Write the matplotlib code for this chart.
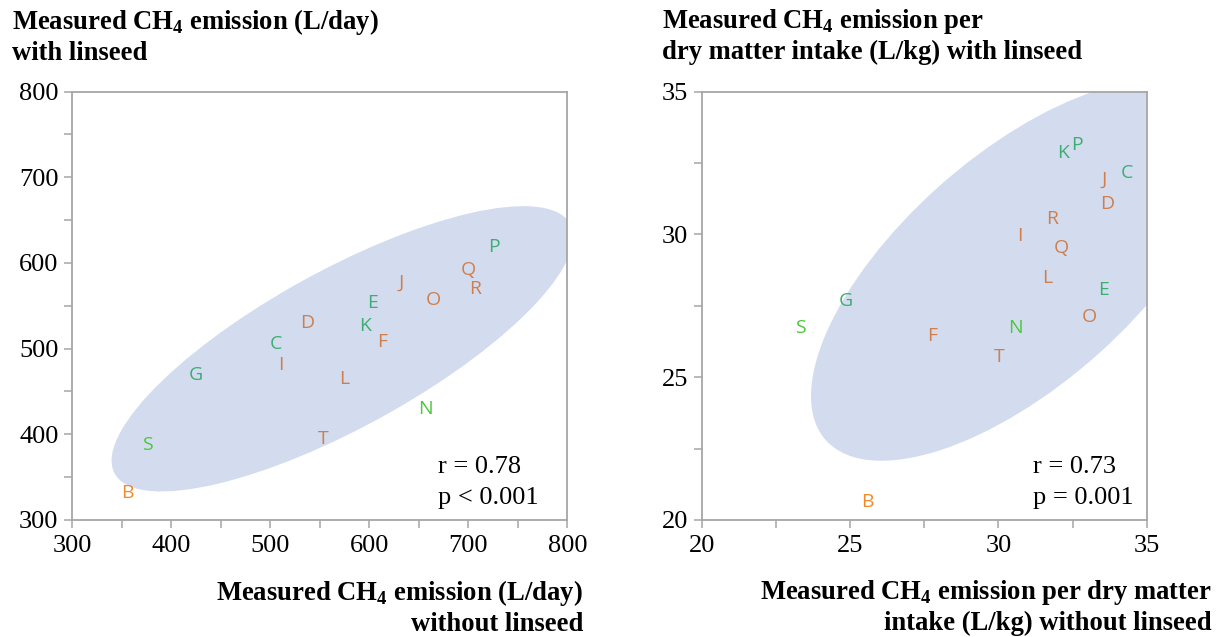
import numpy as np
import matplotlib
matplotlib.use("Agg")
import matplotlib.pyplot as plt
from matplotlib.patches import Ellipse
from matplotlib.ticker import MultipleLocator

plt.rcParams['font.family'] = 'Liberation Serif'
plt.rcParams['mathtext.fontset'] = 'custom'
plt.rcParams['mathtext.rm'] = 'Liberation Serif'
plt.rcParams['mathtext.bf'] = 'Liberation Serif:bold'

# cow labels and colour groups
labels = ["B", "C", "D", "E", "F", "G", "I", "J", "K", "L", "N", "O", "P", "Q", "R", "S", "T"]
groups = ["o", "g", "b", "g", "b", "g", "b", "b", "g", "b", "l", "b", "g", "b", "b", "l", "b"]

# CH4 (L/day): without vs with linseed
day_without = [356, 506, 537, 603, 613, 425, 511, 632, 596, 575, 657, 665, 726, 700, 707, 376, 554]
day_with = [332, 506, 530, 553, 508, 469, 481, 577, 526, 465, 430, 557, 619, 592, 570, 388, 394]

# CH4 per DMI (L/kg): without vs with linseed
dmi_without = [25.60, 34.32, 33.65, 33.54, 27.77, 24.85, 30.73, 33.57, 32.17, 31.66, 30.56, 33.05, 32.66, 32.11, 31.82, 23.34, 30.03]
dmi_with = [20.63, 32.14, 31.05, 28.05, 26.44, 27.67, 29.95, 31.90, 32.86, 28.48, 26.71, 27.11, 33.13, 29.51, 30.53, 26.71, 25.71]

colours = {"o": "#F08A2A", "b": "#CF7E4C", "g": "#3DAE72", "l": "#4DC83C"}
fill_col = "#D3DCEF"
spine_col = "#A6A6A6"


def density_ellipse(ax, x, y, k=2.1):
    x = np.asarray(x, float)
    y = np.asarray(y, float)
    cov = np.cov(x, y)
    vals, vecs = np.linalg.eigh(cov)
    order = vals.argsort()[::-1]
    vals, vecs = vals[order], vecs[:, order]
    ang = np.degrees(np.arctan2(vecs[1, 0], vecs[0, 0]))
    e = Ellipse((x.mean(), y.mean()), 2 * k * np.sqrt(vals[0]), 2 * k * np.sqrt(vals[1]),
                angle=ang, facecolor=fill_col, edgecolor='none', zorder=0)
    ax.add_patch(e)


def panel(ax, x, y, lim, major, minor, stat, sx):
    density_ellipse(ax, x, y)
    for lab, g, xi, yi in zip(labels, groups, x, y):
        ax.text(xi, yi, lab, color=colours[g], fontsize=14, family='Open Sans',
                ha='center', va='center', zorder=3)
    ax.set_xlim(lim)
    ax.set_ylim(lim)
    ax.xaxis.set_major_locator(MultipleLocator(major))
    ax.yaxis.set_major_locator(MultipleLocator(major))
    ax.xaxis.set_minor_locator(MultipleLocator(minor))
    ax.yaxis.set_minor_locator(MultipleLocator(minor))
    for s in ax.spines.values():
        s.set_color(spine_col)
        s.set_linewidth(1.3)
    ax.tick_params(which='both', direction='out', length=6, width=1.1, color=spine_col,
                   labelsize=19, pad=4)
    ax.tick_params(axis='x', which='both', pad=5)
    ax.text(sx, 0.124, stat[0], transform=ax.transAxes, fontsize=19, ha='left', va='center')
    ax.text(sx, 0.051, stat[1], transform=ax.transAxes, fontsize=19, ha='left', va='center')


fig = plt.figure(figsize=(12.21, 6.37), dpi=100)
ax1 = fig.add_axes([0.0592, 0.1837, 0.4054, 0.6724])
ax2 = fig.add_axes([0.5747, 0.1837, 0.3645, 0.6724])

panel(ax1, day_without, day_with, (300, 800), 100, 50, ("r = 0.78", "p < 0.001"), 0.739)
panel(ax2, dmi_without, dmi_with, (20, 35), 5, 2.5, ("r = 0.73", "p = 0.001"), 0.745)

tkw = dict(fontsize=19.2, fontweight='bold', linespacing=1.2)
fig.text(12 / 1221, 1 - 7 / 637, "Measured CH$_\\mathbf{4}$ emission (L/day)\nwith linseed",
         ha='left', va='top', **tkw)
fig.text(662 / 1221, 1 - 7 / 637,
         "Measured CH$_\\mathbf{4}$ emission per\ndry matter intake (L/kg) with linseed",
         ha='left', va='top', **tkw)
fig.text(583 / 1221, 1 - 578 / 637, "Measured CH$_\\mathbf{4}$ emission (L/day)\nwithout linseed",
         ha='right', va='top', multialignment='right', **tkw)
fig.text(1212 / 1221, 1 - 578 / 637,
         "Measured CH$_\\mathbf{4}$ emission per dry matter\nintake (L/kg) without linseed",
         ha='right', va='top', multialignment='right', **tkw)

fig.savefig("out.png", dpi=100)
